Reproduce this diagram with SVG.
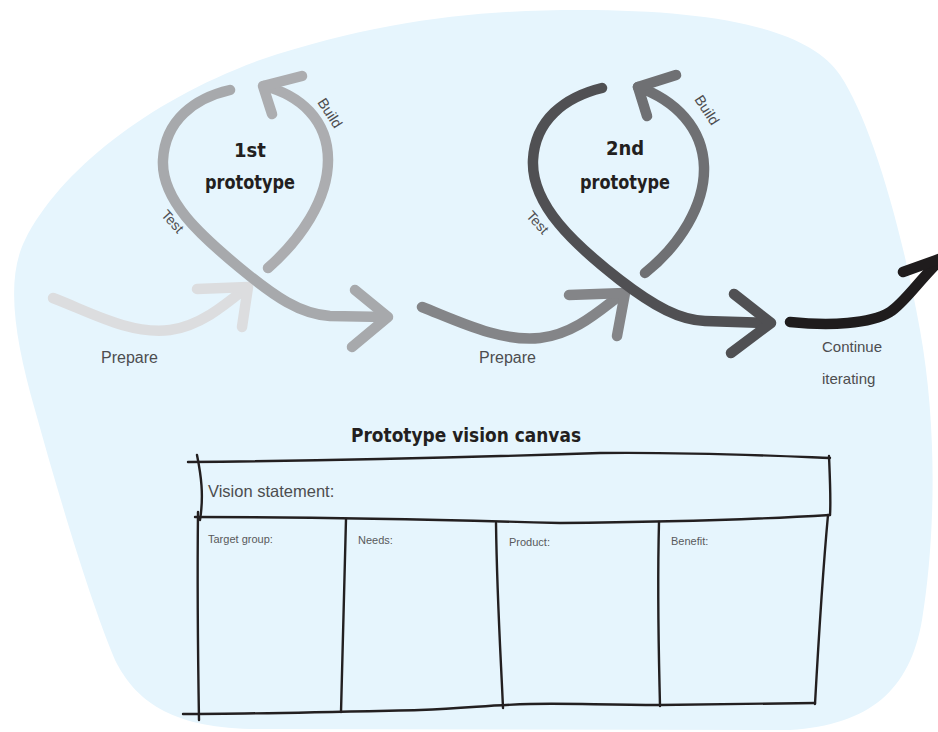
<svg xmlns="http://www.w3.org/2000/svg" width="938" height="732" viewBox="0 0 938 732">
<style>
.stroke{fill:none;stroke-width:10.5;stroke-linecap:round;stroke-linejoin:round}
.p1{stroke:#dcdddf}.l1{stroke:#a7a9ac}.b1{stroke:#acadb0}
.p2{stroke:#848588}.t2{stroke:#505053}.b2{stroke:#6f7073}.c{stroke:#1f1c1d}
.hand{fill:#231f20;font-family:"DejaVu Sans Condensed","DejaVu Sans",sans-serif;font-stretch:condensed;font-weight:bold}
.lbl{fill:#4d4d4f;font-family:"Liberation Sans",Arial,sans-serif}
.tbl{fill:none;stroke:#231f20;stroke-width:2.4;stroke-linecap:round}
.cell{fill:#58595b;font-family:"Liberation Sans",Arial,sans-serif;font-size:11px}
</style>
<path id="bg" d="M 580 10 C 720 10 810 30 840 75 C 870 120 900 220 920 330 C 938 430 935 540 922 620 C 910 690 870 725 790 730 L 250 729 C 170 727 135 700 115 660 C 90 600 60 500 35 410 C 15 340 5 280 25 240 C 60 170 150 100 260 60 C 380 20 480 10 580 10 Z" fill="#e6f5fd"/>
<g id="connectors">
<path class="stroke p1" d="M 53 298 C 90 312 130 335 170 330 C 200 326 225 305 246 288"/>
<path class="stroke p1" d="M 197 289 L 248 287 L 242 327"/>
<path class="stroke b1" d="M 268 268 C 300 240 328 200 328 160 C 328 120 300 95 264 86"/>
<path class="stroke b1" d="M 302 76 L 263 86 L 272 114"/>
<path class="stroke l1" d="M 230 90 C 195 98 165 120 163 160 C 161 200 200 235 240 268 C 275 297 300 314 330 316 L 386 317"/>
<path class="stroke l1" d="M 355 290 L 388 317 L 352 347"/>
<path class="stroke p2" d="M 422 307 C 460 322 500 342 540 338 C 575 334 600 310 623 293"/>
<path class="stroke p2" d="M 569 295 L 625 293 L 617 336"/>
<path class="stroke b2" d="M 645 273 C 680 245 705 205 704 167 C 703 128 675 100 638 87"/>
<path class="stroke b2" d="M 676 75 L 638 87 L 647 116"/>
<path class="stroke t2" d="M 602 88 C 565 97 535 120 533 160 C 531 205 575 245 620 280 C 655 307 680 320 705 321 L 768 323"/>
<path class="stroke t2" d="M 734 294 L 771 323 L 731 353"/>
<path class="stroke c" d="M 790 322 C 830 326 870 324 890 312 C 905 302 915 285 942 258"/>
<path class="stroke c" d="M 903 272 L 942 258"/>
</g>
<g id="proto1">
<text class="hand" x="250" y="157" font-size="20" text-anchor="middle">1st</text>
<text class="hand" x="250" y="189" font-size="20" text-anchor="middle" textLength="90" lengthAdjust="spacingAndGlyphs">prototype</text>
<text class="lbl" font-size="14.5" transform="translate(330 113) rotate(57)" text-anchor="middle" dy="5">Build</text>
<text class="lbl" font-size="14" transform="translate(172 222) rotate(48)" text-anchor="middle" dy="4">Test</text>
<text class="lbl" x="101" y="363" font-size="16">Prepare</text>
</g>
<g id="proto2">
<text class="hand" x="625" y="155" font-size="20" text-anchor="middle">2nd</text>
<text class="hand" x="625" y="189" font-size="20" text-anchor="middle" textLength="90" lengthAdjust="spacingAndGlyphs">prototype</text>
<text class="lbl" font-size="14.5" transform="translate(707 110) rotate(57)" text-anchor="middle" dy="5">Build</text>
<text class="lbl" font-size="14" transform="translate(537 223) rotate(48)" text-anchor="middle" dy="4">Test</text>
<text class="lbl" x="479" y="363" font-size="16">Prepare</text>
</g>
<g id="continue">
<text class="lbl" x="822" y="352" font-size="15">Continue</text>
<text class="lbl" x="822" y="384" font-size="15">iterating</text>
</g>
<g id="canvas">
<text class="hand" x="466" y="442" font-size="20" text-anchor="middle" textLength="230" lengthAdjust="spacingAndGlyphs">Prototype vision canvas</text>
<path class="tbl" d="M 188 462 C 300 461 450 458 600 453 C 700 452 780 456 830 458"/>
<path class="tbl" d="M 197 455 C 201 475 204 495 200 520"/>
<path class="tbl" d="M 829 456 C 830 480 831 500 830 515"/>
<path class="tbl" d="M 195 517 C 300 517 450 520 560 523 C 680 522 780 518 830 515"/>
<path class="tbl" d="M 198 512 C 197 600 198 660 199 720"/>
<path class="tbl" d="M 346 519 C 344 600 342 660 341 712"/>
<path class="tbl" d="M 496 523 C 497 600 501 660 503 708"/>
<path class="tbl" d="M 659 522 C 657 600 659 660 660 706"/>
<path class="tbl" d="M 828 515 C 822 580 818 650 815 704"/>
<path class="tbl" d="M 183 714 C 250 714 330 712 420 710 C 470 708 490 705 530 704 C 570 703 600 705 660 705 L 815 703"/>
<text class="lbl" x="208" y="497" font-size="16.5">Vision statement:</text>
<text class="cell" x="208" y="543">Target group:</text>
<text class="cell" x="358" y="544">Needs:</text>
<text class="cell" x="509" y="546">Product:</text>
<text class="cell" x="671" y="545">Benefit:</text>
</g>
</svg>
